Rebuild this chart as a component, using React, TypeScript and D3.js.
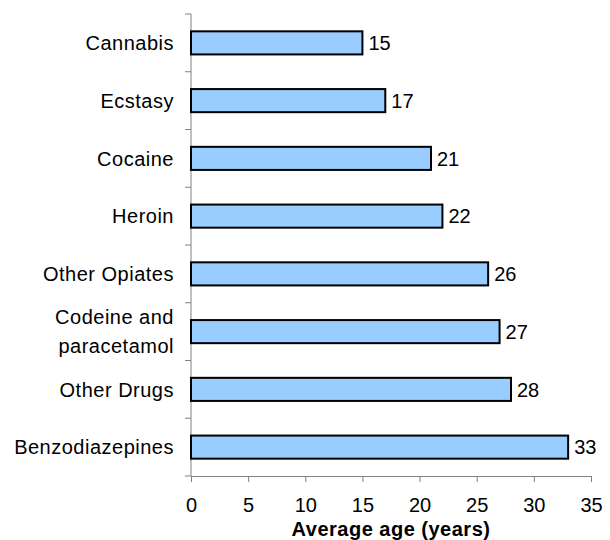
import React, { useEffect, useRef } from "react";
import * as d3 from "d3";

// average age at first use, by drug
const drugs = [
  "Cannabis",
  "Ecstasy",
  "Cocaine",
  "Heroin",
  "Other Opiates",
  "Codeine and paracetamol",
  "Other Drugs",
  "Benzodiazepines",
];
const ages = [15, 17, 21, 22, 26, 27, 28, 33];
const xTicks = [0, 5, 10, 15, 20, 25, 30, 35];

// split long category names over two lines
const labelLines: Record<string, string[]> = {
  "Codeine and paracetamol": ["Codeine and", "paracetamol"],
};

export default function App() {
  const chart = useRef<SVGSVGElement>(null);

  useEffect(() => {
    const margin = { top: 14, right: 19, bottom: 64, left: 191 };
    const W = 610;
    const H = 540;
    const width = W - margin.left - margin.right;
    const height = H - margin.top - margin.bottom;
    const font = "Liberation Sans, Arial, sans-serif";
    const fs = 20;

    const root = d3.select(chart.current);
    root.selectAll("*").remove();
    const svg = root
      .append("g")
      .attr("transform", "translate(" + margin.left + "," + margin.top + ")");

    const x = d3.scaleLinear().domain([0, 35]).range([0, width]);
    const y = d3.scaleBand().domain(drugs).range([0, height]).paddingInner(0.6).paddingOuter(0.3);

    // y axis line + ticks between categories
    svg.append("line")
      .attr("x1", 0).attr("x2", 0).attr("y1", 0).attr("y2", height)
      .attr("stroke", "#808080").attr("stroke-width", 1);
    const step = height / drugs.length;
    d3.range(drugs.length + 1).forEach((i) => {
      svg.append("line")
        .attr("x1", -6).attr("x2", 0)
        .attr("y1", i * step).attr("y2", i * step)
        .attr("stroke", "#808080");
    });

    // x axis
    const xAxis = d3.axisBottom(x).tickValues(xTicks).tickSize(6).tickSizeOuter(0);
    const gx = svg.append("g")
      .attr("transform", "translate(0," + height + ")")
      .call(xAxis);
    gx.select(".domain").attr("stroke", "#808080");
    gx.selectAll(".tick line").attr("stroke", "#808080");
    gx.selectAll(".tick text")
      .attr("font-family", font)
      .attr("font-size", fs)
      .attr("fill", "#000")
      .attr("dy", "0.71em")
      .attr("y", 22);

    // bars
    svg.selectAll(".bar")
      .data(drugs)
      .enter()
      .append("rect")
        .attr("class", "bar")
        .attr("x", 0)
        .attr("y", (d) => y(d)!)
        .attr("width", (d, i) => x(ages[i]))
        .attr("height", y.bandwidth())
        .attr("fill", "#99CCFF")
        .attr("stroke", "#000")
        .attr("stroke-width", 2);

    // value labels
    svg.selectAll(".val")
      .data(drugs)
      .enter()
      .append("text")
        .attr("x", (d, i) => x(ages[i]) + 6)
        .attr("y", (d) => y(d)! + y.bandwidth() / 2)
        .attr("dy", "0.36em")
        .attr("font-family", font)
        .attr("font-size", fs)
        .text((d, i) => ages[i]);

    // category labels
    drugs.forEach((d) => {
      const lines = labelLines[d] || [d];
      const cy = y(d)! + y.bandwidth() / 2;
      const lh = 29;
      const t = svg.append("text")
        .attr("text-anchor", "end")
        .attr("font-family", font)
        .attr("font-size", fs)
        .attr("letter-spacing", 0.5);
      lines.forEach((ln, k) => {
        t.append("tspan")
          .attr("x", -17)
          .attr("y", cy + (k - (lines.length - 1) / 2) * lh)
          .attr("dy", "0.36em")
          .text(ln);
      });
    });

    // axis title
    svg.append("text")
      .attr("x", width / 2)
      .attr("y", height + 60)
      .attr("text-anchor", "middle")
      .attr("font-family", font)
      .attr("font-size", fs)
      .attr("font-weight", "bold")
      .attr("letter-spacing", 0.5)
      .text("Average age (years)");

    return () => {
      root.selectAll("*").remove();
    };
  }, []);

  return (
    <svg
      ref={chart}
      width={610}
      height={540}
      style={{ position: "absolute", left: 0, top: 0, background: "#fff" }}
    ></svg>
  );
}
